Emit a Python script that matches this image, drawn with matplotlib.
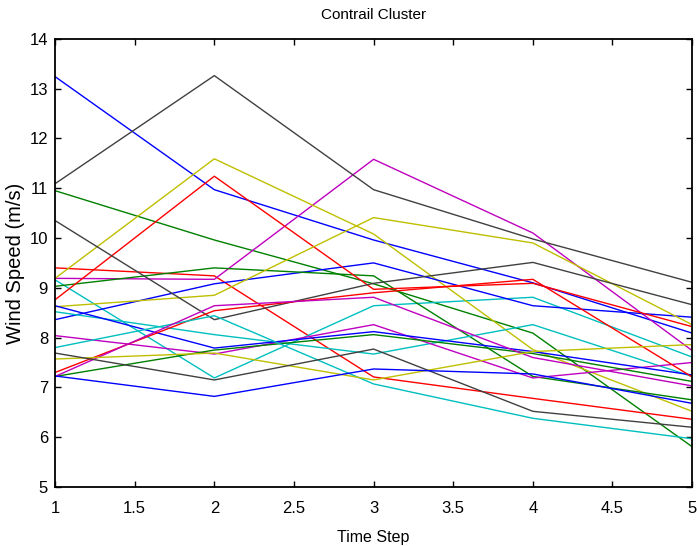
import numpy as np
import matplotlib
matplotlib.use('Agg')
import matplotlib.pyplot as plt

time_step = [1, 2, 3, 4, 5]

blue_1 = [13.24, 10.97, 9.96, 9.10, 8.09]
green_1 = [10.95, 9.96, 9.08, 8.09, 5.81]
red_1 = [9.40, 9.24, 7.21, 6.78, 6.36]
cyan_1 = [9.16, 7.19, 8.64, 8.81, 7.61]
magenta_1 = [9.19, 9.17, 11.58, 10.10, 7.74]
yellow_1 = [9.19, 11.59, 10.08, 7.76, 6.52]
gray_1 = [11.09, 13.26, 10.97, 9.98, 9.11]

blue_2 = [8.36, 9.08, 9.50, 8.64, 8.41]
green_2 = [9.03, 9.40, 9.24, 7.22, 6.75]
red_2 = [8.76, 11.24, 8.97, 9.09, 8.22]
cyan_2 = [8.52, 8.06, 7.67, 8.26, 7.22]
magenta_2 = [8.04, 7.67, 8.26, 7.19, 7.50]
yellow_2 = [8.62, 8.85, 10.41, 9.90, 8.26]
gray_2 = [10.35, 8.36, 9.09, 9.51, 8.66]

blue_3 = [8.64, 7.79, 8.12, 7.72, 7.25]
green_3 = [7.22, 7.75, 8.06, 7.68, 7.12]
red_3 = [7.30, 8.54, 8.90, 9.17, 7.21]
cyan_3 = [7.80, 8.44, 7.07, 6.38, 5.97]
magenta_3 = [7.22, 8.64, 8.81, 7.60, 7.03]
yellow_3 = [7.57, 7.69, 7.15, 7.72, 7.86]
gray_3 = [7.69, 7.15, 7.77, 6.52, 6.20]

blue_4 = [7.23, 6.82, 7.37, 7.27, 6.68]

# matlab default color order
colors = [(0, 0, 1), (0, 0.5, 0), (1, 0, 0), (0, 0.75, 0.75),
          (0.75, 0, 0.75), (0.75, 0.75, 0), (0.25, 0.25, 0.25)]

series = [blue_1, green_1, red_1, cyan_1, magenta_1, yellow_1, gray_1,
          blue_2, green_2, red_2, cyan_2, magenta_2, yellow_2, gray_2,
          blue_3, green_3, red_3, cyan_3, magenta_3, yellow_3, gray_3,
          blue_4]

narrow = ['Liberation Sans Narrow', 'Liberation Sans', 'DejaVu Sans']

fig = plt.figure(figsize=(6.97, 5.46), dpi=100)
ax = fig.add_axes([0.079, 0.108, 0.914, 0.821])

for i in range(len(series)):
    ax.plot(time_step, series[i], color=colors[i % 7], linewidth=1.0)

ax.set_xlim(1, 5)
ax.set_ylim(5, 14)
ax.set_xticks(np.arange(1, 5.01, 0.5))
ax.set_xticklabels(['1', '1.5', '2', '2.5', '3', '3.5', '4', '4.5', '5'])
ax.set_yticks(range(5, 15))
ax.tick_params(direction='in', top=True, right=True, length=4, width=1, labelsize=12)
ax.tick_params(axis='x', pad=10)
ax.tick_params(axis='y', pad=5)
for lab in ax.get_xticklabels() + ax.get_yticklabels():
    lab.set_family(narrow)
for sp in ax.spines.values():
    sp.set_linewidth(1.3)

ax.set_title('Contrail Cluster', fontsize=11, family=narrow, pad=14)
ax.set_xlabel('Time Step', fontsize=11.5, family=narrow, labelpad=10)
ax.set_ylabel('Wind Speed (m/s)', fontsize=14.5, family=['Liberation Sans', 'DejaVu Sans'])
ax.yaxis.set_label_coords(-0.047, 0.5)

fig.savefig('out.png', dpi=100)
